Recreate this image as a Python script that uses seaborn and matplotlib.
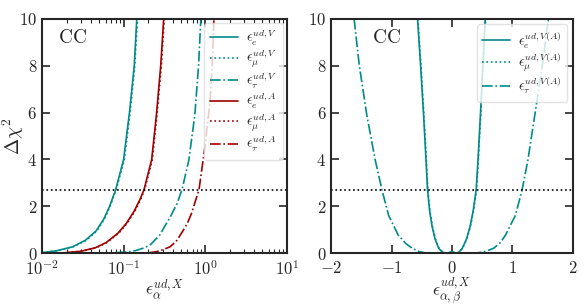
import numpy as np
import pandas as pd
import matplotlib
matplotlib.use("Agg")
import matplotlib.pyplot as plt
import seaborn as sns
from matplotlib.ticker import FuncFormatter, LogLocator, NullFormatter, MultipleLocator

# ---------------------------------------------
# Data
# ---------------------------------------------
# left panel: log-scale couplings
eV_x = [0.010, 0.015, 0.0236, 0.034, 0.046, 0.057, 0.067, 0.080, 0.100, 0.118, 0.135, 0.145]
eV_y = [0.02, 0.10, 0.27, 0.55, 0.95, 1.45, 1.98, 2.71, 4.00, 6.00, 8.00, 10.0]
muV_x = [0.010, 0.015, 0.0240, 0.035, 0.047, 0.058, 0.068, 0.081, 0.102, 0.120, 0.137, 0.148]
muV_y = [0.02, 0.10, 0.27, 0.55, 0.95, 1.45, 1.98, 2.71, 4.00, 6.00, 8.00, 10.0]
tauV_x = [0.080, 0.110, 0.140, 0.173, 0.210, 0.277, 0.380, 0.450, 0.520, 0.630, 0.747, 0.830, 0.885]
tauV_y = [0.02, 0.05, 0.11, 0.21, 0.34, 0.77, 1.60, 2.10, 2.71, 3.97, 5.90, 8.03, 10.0]

eA_x = [0.018, 0.030, 0.045, 0.061, 0.085, 0.108, 0.135, 0.157, 0.178, 0.221, 0.254, 0.285, 0.310]
eA_y = [0.01, 0.08, 0.23, 0.45, 0.85, 1.27, 1.80, 2.26, 2.71, 4.00, 6.00, 8.00, 10.0]
muA_x = [0.018, 0.030, 0.046, 0.062, 0.087, 0.110, 0.138, 0.160, 0.181, 0.225, 0.258, 0.290, 0.315]
muA_y = [0.01, 0.08, 0.23, 0.45, 0.85, 1.27, 1.80, 2.26, 2.71, 4.00, 6.00, 8.00, 10.0]
tauA_x = [0.200, 0.250, 0.300, 0.370, 0.440, 0.510, 0.600, 0.680, 0.840, 0.990, 1.140, 1.220, 1.280]
tauA_y = [0.01, 0.06, 0.14, 0.27, 0.50, 0.84, 1.25, 1.70, 2.71, 4.50, 6.40, 8.03, 10.0]

# right panel: linear couplings
e_x = [-0.570, -0.520, -0.470, -0.430, -0.405, -0.370, -0.330, -0.280, -0.220, -0.155, -0.080, 0.000,
       0.060, 0.110, 0.170, 0.240, 0.300, 0.350, 0.400, 0.430, 0.470, 0.510, 0.550]
e_y = [10.0, 8.03, 5.90, 3.97, 2.71, 1.80, 1.15, 0.60, 0.21, 0.03, 0.00, 0.06,
       0.00, 0.03, 0.21, 0.60, 1.15, 1.80, 2.71, 3.97, 5.90, 8.03, 10.0]
mu_x = [-0.565, -0.515, -0.465, -0.425, -0.400, -0.365, -0.325, -0.275, -0.215, -0.150, -0.075, 0.005,
        0.065, 0.115, 0.175, 0.245, 0.305, 0.355, 0.405, 0.435, 0.475, 0.515, 0.555]
mu_y = [10.0, 8.03, 5.90, 3.97, 2.71, 1.80, 1.15, 0.60, 0.21, 0.03, 0.00, 0.06,
        0.00, 0.03, 0.21, 0.60, 1.15, 1.80, 2.71, 3.97, 5.90, 8.03, 10.0]
tau_x = [-1.620, -1.535, -1.410, -1.270, -1.160, -1.050, -0.890, -0.760, -0.660, -0.550, -0.440, 0.000,
         0.415, 0.550, 0.690, 0.800, 0.885, 1.050, 1.160, 1.255, 1.370, 1.495, 1.595]
tau_y = [10.0, 8.03, 5.90, 3.97, 2.71, 1.62, 0.77, 0.40, 0.21, 0.07, 0.01, 0.00,
         0.01, 0.07, 0.21, 0.45, 0.77, 1.62, 2.71, 3.97, 5.90, 8.03, 10.0]

chi2_cut = 2.71

TEAL = "#008b8b"
RED = "#a00000"

# ---------------------------------------------
# Style
# ---------------------------------------------
sns.set_style("ticks")
plt.rcParams["font.family"] = ["DejaVu Serif"]
plt.rcParams["mathtext.fontset"] = "cm"

fig = plt.figure(figsize=(5.84, 3.05), dpi=100)
ax1 = fig.add_axes([0.072, 0.170, 0.419, 0.768])
ax2 = fig.add_axes([0.567, 0.170, 0.414, 0.768])


def draw(ax, xs, ys, color, ls, label):
    df = pd.DataFrame({"x": xs, "y": ys})
    sns.lineplot(data=df, x="x", y="y", ax=ax, color=color, linestyle=ls,
                 linewidth=1.2, label=label, sort=False)


# ---------------------------------------------
# Left panel
# ---------------------------------------------
ax1.set_xscale("log")
draw(ax1, eV_x, eV_y, TEAL, "-", r"$\epsilon_{e}^{ud,V}$")
draw(ax1, muV_x, muV_y, TEAL, ":", r"$\epsilon_{\mu}^{ud,V}$")
draw(ax1, tauV_x, tauV_y, TEAL, "-.", r"$\epsilon_{\tau}^{ud,V}$")
draw(ax1, eA_x, eA_y, RED, "-", r"$\epsilon_{e}^{ud,A}$")
draw(ax1, muA_x, muA_y, RED, ":", r"$\epsilon_{\mu}^{ud,A}$")
draw(ax1, tauA_x, tauA_y, RED, "-.", r"$\epsilon_{\tau}^{ud,A}$")
ax1.axhline(chi2_cut, color="black", linestyle=":", linewidth=1.2)
ax1.set_xlim(1e-2, 1e1)
ax1.set_ylim(0, 10)
ax1.xaxis.set_major_locator(LogLocator(base=10, numticks=10))
ax1.xaxis.set_minor_locator(LogLocator(base=10, subs=np.arange(2, 10), numticks=20))
ax1.xaxis.set_minor_formatter(NullFormatter())
ax1.xaxis.set_major_formatter(FuncFormatter(lambda v, p: r"$10^{%d}$" % int(round(np.log10(v)))))
ax1.set_xlabel(r"$\epsilon_{\alpha}^{ud,X}$", fontsize=12.5, labelpad=-1)
ax1.set_ylabel(r"$\Delta\chi^2$", fontsize=14)
ax1.yaxis.set_label_coords(-0.065, 0.5)
ax1.text(0.065, 0.92, r"$\mathrm{CC}$", transform=ax1.transAxes, fontsize=14, va="center")
ax1.legend(loc="upper right", fontsize=10, handlelength=2.0, handletextpad=0.6,
           labelspacing=0.1, borderaxespad=0.3, framealpha=0.8, edgecolor="#dddddd")

# ---------------------------------------------
# Right panel
# ---------------------------------------------
draw(ax2, e_x, e_y, TEAL, "-", r"$\epsilon_{e}^{ud,V(A)}$")
draw(ax2, mu_x, mu_y, TEAL, ":", r"$\epsilon_{\mu}^{ud,V(A)}$")
draw(ax2, tau_x, tau_y, TEAL, "-.", r"$\epsilon_{\tau}^{ud,V(A)}$")
ax2.axhline(chi2_cut, color="black", linestyle=":", linewidth=1.2)
ax2.set_xlim(-2, 2)
ax2.set_ylim(0, 10)
ax2.xaxis.set_major_locator(MultipleLocator(1))
ax2.set_xlabel(r"$\epsilon_{\alpha,\beta}^{ud,X}$", fontsize=12.5, labelpad=-1)
ax2.set_ylabel("")
ax2.text(0.17, 0.92, r"$\mathrm{CC}$", transform=ax2.transAxes, fontsize=14, va="center")
ax2.legend(loc="upper right", fontsize=10, handlelength=2.0, handletextpad=0.6,
           labelspacing=0.1, borderaxespad=0.4, framealpha=0.8, edgecolor="#dddddd")

for ax in (ax1, ax2):
    ax.yaxis.set_major_locator(MultipleLocator(2))
    ax.yaxis.set_major_formatter(FuncFormatter(lambda v, p: r"$%d$" % v))
    if ax is ax2:
        ax.xaxis.set_major_formatter(FuncFormatter(lambda v, p: r"$%d$" % v))
    ax.tick_params(which="major", direction="in", length=6, width=1.2,
                   top=True, right=True, labelsize=12)
    ax.tick_params(axis="x", which="major", pad=5)
    ax.tick_params(which="minor", direction="in", length=3, width=0.8,
                   top=True, right=True)
    for s in ax.spines.values():
        s.set_linewidth(1.5)
        s.set_visible(True)

fig.savefig("out.png", dpi=100)
